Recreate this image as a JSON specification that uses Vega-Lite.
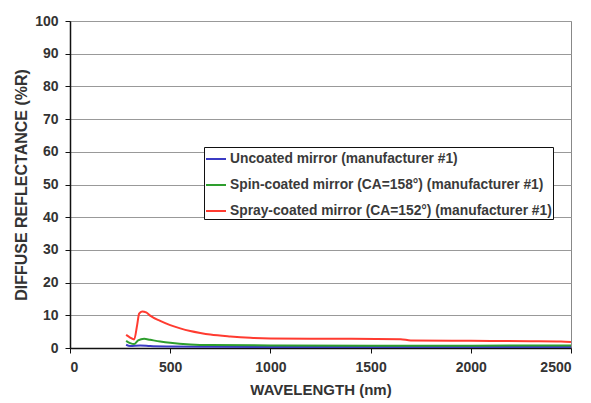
{
  "$schema": "https://vega.github.io/schema/vega-lite/v6.json",
  "width": 501,
  "height": 327,
  "autosize": "none",
  "padding": {"left": 70, "top": 21, "right": 20, "bottom": 55},
  "background": "white",
  "config": {
    "view": {"stroke": "#888888", "strokeWidth": 1},
    "font": "Liberation Sans",
    "axis": {
      "labelFont": "Liberation Sans",
      "labelFontWeight": "bold",
      "labelFontSize": 14,
      "labelColor": "#333333",
      "titleFont": "Liberation Sans",
      "titleFontWeight": "bold",
      "titleFontSize": 15,
      "titleColor": "#333333",
      "domainColor": "#111111",
      "domainWidth": 1.5,
      "tickColor": "#111111",
      "tickSize": 5,
      "gridColor": "#999999",
      "gridWidth": 1
    }
  },
  "data": {
    "values": [
      {"series": "Uncoated mirror (manufacturer #1)", "wl": 280, "r": 1.0},
      {"series": "Uncoated mirror (manufacturer #1)", "wl": 300, "r": 0.6},
      {"series": "Uncoated mirror (manufacturer #1)", "wl": 350, "r": 0.8},
      {"series": "Uncoated mirror (manufacturer #1)", "wl": 400, "r": 0.6},
      {"series": "Uncoated mirror (manufacturer #1)", "wl": 500, "r": 0.45},
      {"series": "Uncoated mirror (manufacturer #1)", "wl": 700, "r": 0.35},
      {"series": "Uncoated mirror (manufacturer #1)", "wl": 1000, "r": 0.3},
      {"series": "Uncoated mirror (manufacturer #1)", "wl": 1500, "r": 0.3},
      {"series": "Uncoated mirror (manufacturer #1)", "wl": 2000, "r": 0.3},
      {"series": "Uncoated mirror (manufacturer #1)", "wl": 2500, "r": 0.3},
      {"series": "Spin-coated mirror (CA=158°) (manufacturer #1)", "wl": 280, "r": 2.2},
      {"series": "Spin-coated mirror (CA=158°) (manufacturer #1)", "wl": 300, "r": 1.5},
      {"series": "Spin-coated mirror (CA=158°) (manufacturer #1)", "wl": 320, "r": 1.2},
      {"series": "Spin-coated mirror (CA=158°) (manufacturer #1)", "wl": 340, "r": 2.3},
      {"series": "Spin-coated mirror (CA=158°) (manufacturer #1)", "wl": 370, "r": 2.8},
      {"series": "Spin-coated mirror (CA=158°) (manufacturer #1)", "wl": 400, "r": 2.5},
      {"series": "Spin-coated mirror (CA=158°) (manufacturer #1)", "wl": 450, "r": 2.0},
      {"series": "Spin-coated mirror (CA=158°) (manufacturer #1)", "wl": 500, "r": 1.6},
      {"series": "Spin-coated mirror (CA=158°) (manufacturer #1)", "wl": 600, "r": 1.1},
      {"series": "Spin-coated mirror (CA=158°) (manufacturer #1)", "wl": 700, "r": 0.9},
      {"series": "Spin-coated mirror (CA=158°) (manufacturer #1)", "wl": 1000, "r": 0.8},
      {"series": "Spin-coated mirror (CA=158°) (manufacturer #1)", "wl": 1500, "r": 0.7},
      {"series": "Spin-coated mirror (CA=158°) (manufacturer #1)", "wl": 2000, "r": 0.7},
      {"series": "Spin-coated mirror (CA=158°) (manufacturer #1)", "wl": 2500, "r": 0.8},
      {"series": "Spray-coated mirror (CA=152°) (manufacturer #1)", "wl": 280, "r": 4.0},
      {"series": "Spray-coated mirror (CA=152°) (manufacturer #1)", "wl": 300, "r": 3.2},
      {"series": "Spray-coated mirror (CA=152°) (manufacturer #1)", "wl": 320, "r": 2.6},
      {"series": "Spray-coated mirror (CA=152°) (manufacturer #1)", "wl": 335, "r": 7.0},
      {"series": "Spray-coated mirror (CA=152°) (manufacturer #1)", "wl": 345, "r": 10.5},
      {"series": "Spray-coated mirror (CA=152°) (manufacturer #1)", "wl": 360, "r": 11.2},
      {"series": "Spray-coated mirror (CA=152°) (manufacturer #1)", "wl": 380, "r": 10.9},
      {"series": "Spray-coated mirror (CA=152°) (manufacturer #1)", "wl": 400, "r": 9.9},
      {"series": "Spray-coated mirror (CA=152°) (manufacturer #1)", "wl": 450, "r": 8.3},
      {"series": "Spray-coated mirror (CA=152°) (manufacturer #1)", "wl": 500, "r": 7.0},
      {"series": "Spray-coated mirror (CA=152°) (manufacturer #1)", "wl": 550, "r": 6.0},
      {"series": "Spray-coated mirror (CA=152°) (manufacturer #1)", "wl": 600, "r": 5.2},
      {"series": "Spray-coated mirror (CA=152°) (manufacturer #1)", "wl": 650, "r": 4.6},
      {"series": "Spray-coated mirror (CA=152°) (manufacturer #1)", "wl": 700, "r": 4.1},
      {"series": "Spray-coated mirror (CA=152°) (manufacturer #1)", "wl": 800, "r": 3.5},
      {"series": "Spray-coated mirror (CA=152°) (manufacturer #1)", "wl": 900, "r": 3.1},
      {"series": "Spray-coated mirror (CA=152°) (manufacturer #1)", "wl": 1000, "r": 2.9},
      {"series": "Spray-coated mirror (CA=152°) (manufacturer #1)", "wl": 1200, "r": 2.8},
      {"series": "Spray-coated mirror (CA=152°) (manufacturer #1)", "wl": 1400, "r": 2.8},
      {"series": "Spray-coated mirror (CA=152°) (manufacturer #1)", "wl": 1650, "r": 2.7},
      {"series": "Spray-coated mirror (CA=152°) (manufacturer #1)", "wl": 1700, "r": 2.3},
      {"series": "Spray-coated mirror (CA=152°) (manufacturer #1)", "wl": 2000, "r": 2.2},
      {"series": "Spray-coated mirror (CA=152°) (manufacturer #1)", "wl": 2300, "r": 2.1},
      {"series": "Spray-coated mirror (CA=152°) (manufacturer #1)", "wl": 2450, "r": 2.0},
      {"series": "Spray-coated mirror (CA=152°) (manufacturer #1)", "wl": 2500, "r": 1.8}
    ]
  },
  "mark": {"type": "line", "strokeWidth": 2, "interpolate": "monotone"},
  "encoding": {
    "x": {
      "field": "wl",
      "type": "quantitative",
      "scale": {"domain": [0, 2500], "nice": false},
      "axis": {"title": "WAVELENGTH (nm)", "format": "d", "values": [0, 500, 1000, 1500, 2000, 2500], "grid": false, "labelPadding": 7, "titlePadding": 8}
    },
    "y": {
      "field": "r",
      "type": "quantitative",
      "scale": {"domain": [0, 100], "nice": false},
      "axis": {"title": "DIFFUSE REFLECTANCE (%R)", "titleFontSize": 16, "values": [0, 10, 20, 30, 40, 50, 60, 70, 80, 90, 100], "grid": true, "labelPadding": 7, "titlePadding": 5}
    },
    "color": {
      "field": "series",
      "type": "nominal",
      "sort": ["Uncoated mirror (manufacturer #1)", "Spin-coated mirror (CA=158°) (manufacturer #1)", "Spray-coated mirror (CA=152°) (manufacturer #1)"],
      "scale": {
        "domain": ["Uncoated mirror (manufacturer #1)", "Spin-coated mirror (CA=158°) (manufacturer #1)", "Spray-coated mirror (CA=152°) (manufacturer #1)"],
        "range": ["#3b3bc4", "#2e9e2e", "#ff3b30"]
      },
      "legend": {
        "title": null,
        "orient": "none",
        "legendX": 134,
        "legendY": 126,
        "symbolType": "stroke",
        "symbolSize": 400,
        "symbolStrokeWidth": 2,
        "labelFont": "Liberation Sans",
        "labelFontSize": 13.8,
        "labelFontWeight": "bold",
        "labelColor": "#3a3a3a",
        "labelLimit": 400,
        "rowPadding": 8,
        "symbolOffset": 0,
        "labelOffset": 3,
        "strokeColor": "#111111",
        "fillColor": "white",
        "padding": 1
      }
    }
  }
}
